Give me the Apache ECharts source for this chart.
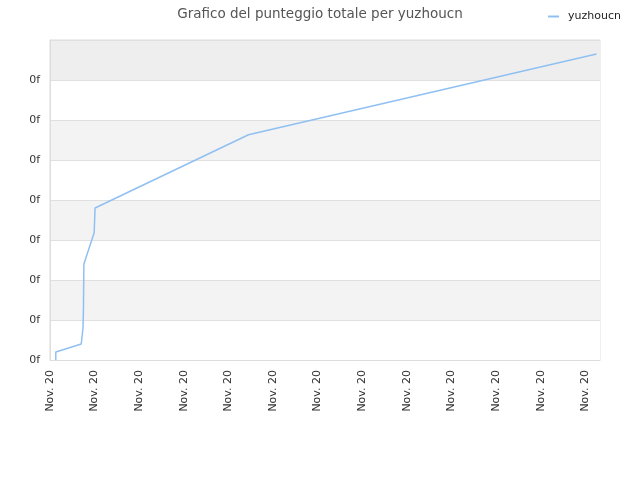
<!DOCTYPE html>
<html>
<head>
<meta charset="utf-8">
<script src="https://cdn.jsdelivr.net/npm/echarts@6/dist/echarts.min.js"></script>
<style>
  html, body { margin: 0; padding: 0; background: #fff; }
  #chart { width: 640px; height: 480px; }
</style>
</head>
<body>
<div id="chart"></div>
<script>
var titleText = 'Grafico del punteggio totale per yuzhoucn';
var seriesName = 'yuzhoucn';
var xTickLabel = 'Nov. 20';
var yTickLabel = '0f';
// positions along time (in label steps) and total score (in grid steps)
var xValues = [0.13, 0.13, 0.70, 0.74, 0.75, 0.76, 0.99, 1.01, 4.45, 12.25];
var yValues = [0, 0.2, 0.4, 0.8, 1.3, 2.4, 3.18, 3.8, 5.63, 7.65];

var points = xValues.map(function (x, i) { return [x, yValues[i]]; });

var chart = echarts.init(document.getElementById('chart'));
chart.setOption({
    animation: false,
    title: {
        text: titleText,
        left: 'center',
        top: 2,
        textStyle: {color: '#555', fontSize: 13.5, fontWeight: 'normal', fontFamily: 'DejaVu Sans'}
    },
    legend: {
        data: [seriesName],
        right: 14,
        top: 6,
        itemWidth: 11,
        itemHeight: 2,
        icon: 'rect',
        textStyle: {color: '#222', fontSize: 11, fontFamily: 'DejaVu Sans', padding: [0, 0, 0, 4]}
    },
    grid: {
        left: 50, right: 40, top: 40, bottom: 120,
        show: true, borderColor: '#ddd', borderWidth: 1
    },
    xAxis: {
        type: 'value',
        min: 0,
        max: 12.33,
        interval: 1,
        axisLine: {lineStyle: {color: '#ddd'}},
        axisTick: {show: false},
        splitLine: {show: false},
        axisLabel: {
            rotate: 90,
            color: '#333',
            fontSize: 11,
            fontFamily: 'DejaVu Sans',
            margin: 10,
            showMaxLabel: false,
            formatter: function () { return xTickLabel; }
        }
    },
    yAxis: {
        type: 'value',
        min: 0,
        max: 8,
        interval: 1,
        axisLine: {show: true, lineStyle: {color: '#ddd'}},
        axisTick: {show: false},
        splitLine: {lineStyle: {color: '#e0e0e0'}},
        splitArea: {
            show: true,
            areaStyle: {color: ['#ffffff', '#f3f3f3', '#ffffff', '#f3f3f3', '#ffffff', '#f3f3f3', '#ffffff', '#eeeeee']}
        },
        axisLabel: {
            color: '#333',
            fontSize: 11,
            fontFamily: 'DejaVu Sans',
            margin: 10,
            showMaxLabel: false,
            formatter: function () { return yTickLabel; }
        }
    },
    series: [{
        name: seriesName,
        type: 'line',
        data: points,
        showSymbol: false,
        symbol: 'none',
        lineStyle: {color: '#90c0f2', width: 1.5},
        itemStyle: {color: '#90c0f2'}
    }]
});
</script>
</body>
</html>
